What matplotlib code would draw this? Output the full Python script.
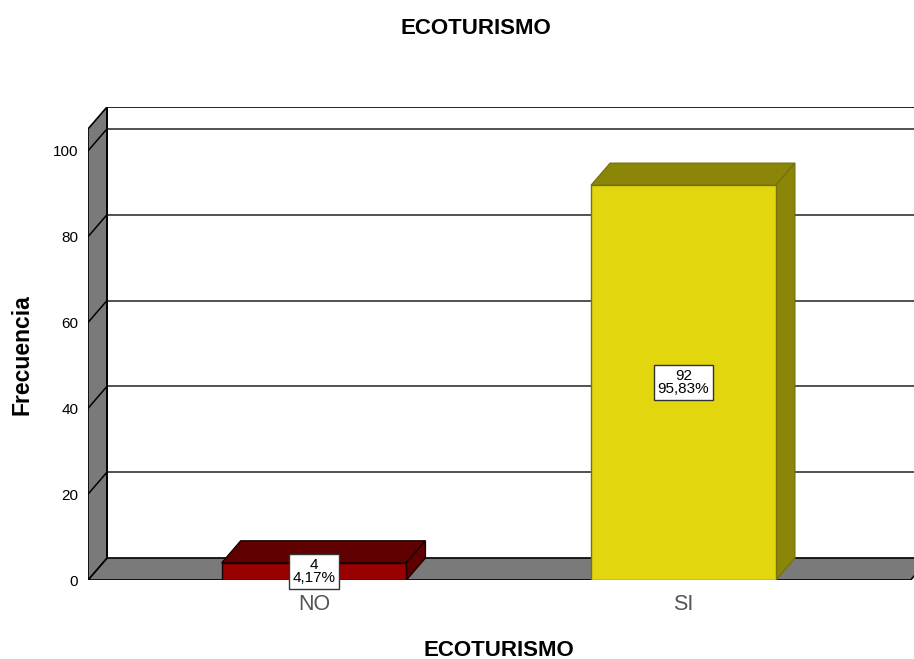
import matplotlib.pyplot as plt
from matplotlib.patches import Polygon, Rectangle

plt.rcParams['font.family'] = ['Liberation Sans', 'DejaVu Sans']

# data
categories = ['NO', 'SI']
counts = [4, 92]
percents = ['4,17%', '95,83%']
yticks = [0, 20, 40, 60, 80, 100]
front_colors = ['#990000', '#e2d60f']
shade_colors = ['#600000', '#8b8508']
edge_colors = ['#1a0000', '#77720a']

# 3d look: depth offset in data units
dx, dy = 0.0514, 5.13
x0, x1 = -0.612, 1.615
ytop = 105.1
bar_w = 0.5
wall = '#7a7a7a'

fig = plt.figure(figsize=(9.14, 6.59), dpi=100)
ax = fig.add_axes([88 / 914, 79 / 659, 826 / 914, 473 / 659])
ax.set_xlim(x0, 1.624)
ax.set_ylim(0, ytop + dy)

# floor and left wall
ax.add_patch(Polygon([(x0, 0), (x1, 0), (x1 + dx, dy), (x0 + dx, dy)],
                     closed=True, fc=wall, ec='black', lw=1.2, zorder=1))
ax.add_patch(Polygon([(x0, 0), (x0, ytop), (x0 + dx, ytop + dy), (x0 + dx, dy)],
                     closed=True, fc=wall, ec='black', lw=1.2, zorder=1))
# back wall frame
ax.plot([x0 + dx, x0 + dx, 2], [dy, ytop + dy, ytop + dy], color='black', lw=1.2, zorder=2)

# gridlines on back wall and slanted ticks on left wall
for v in yticks[1:]:
    ax.plot([x0 + dx, 2], [v + dy, v + dy], color='#222222', lw=1.1, zorder=2)
    ax.plot([x0, x0 + dx], [v, v + dy], color='black', lw=1.1, zorder=2)

# bars
for i, (c, fc, sc, ec) in enumerate(zip(counts, front_colors, shade_colors, edge_colors)):
    l, r = i - bar_w / 2, i + bar_w / 2
    ax.add_patch(Polygon([(l, c), (r, c), (r + dx, c + dy), (l + dx, c + dy)],
                         closed=True, fc=sc, ec=ec, lw=1, zorder=3))
    ax.add_patch(Polygon([(r, 0), (r + dx, dy), (r + dx, c + dy), (r, c)],
                         closed=True, fc=sc, ec=ec, lw=1, zorder=3))
    ax.add_patch(Rectangle((l, 0), bar_w, c, fc=fc, ec=ec, lw=1, zorder=4))
    ax.text(i, c / 2, f'{c}\n{percents[i]}', ha='center', va='center', fontsize=11,
            linespacing=0.9, zorder=6,
            bbox=dict(boxstyle='square,pad=0.25', fc='white', ec='#333333', lw=1))

for s in ax.spines.values():
    s.set_visible(False)
ax.set_xticks(range(len(categories)))
ax.set_xticklabels(categories, fontsize=15.5, color='#555555')
ax.set_yticks(yticks)
ax.set_yticklabels([str(v) for v in yticks], fontsize=11)
ax.tick_params(axis='x', length=0, pad=10)
ax.tick_params(axis='y', length=0, pad=7)
ax.patch.set_alpha(0)

fig.text(476 / 914, 1 - 28 / 659, 'ECOTURISMO', ha='center', va='center',
         fontsize=16, fontweight='bold')
fig.text(499 / 914, 1 - 650 / 659, 'ECOTURISMO', ha='center', va='center',
         fontsize=16, fontweight='bold')
fig.text(22 / 914, 1 - 355 / 659, 'Frecuencia', ha='center', va='center',
         rotation=90, fontsize=16.5, fontweight='bold')

fig.savefig('out.png', dpi=100)
